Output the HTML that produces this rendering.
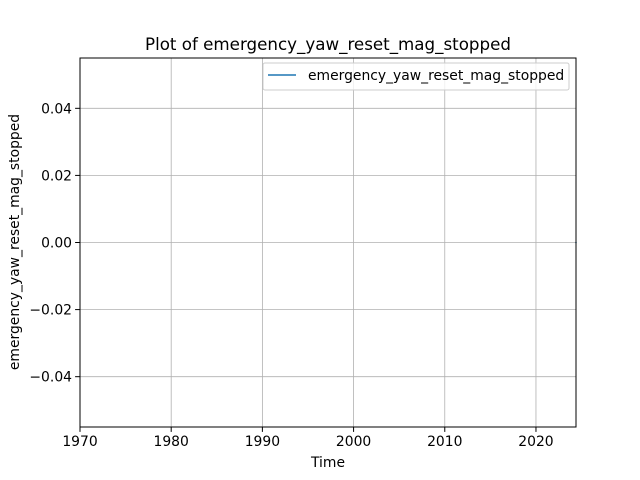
<!DOCTYPE html>
<html><head><meta charset="utf-8"><style>
body{margin:0;background:#fff;}
svg{display:block;font-family:"DejaVu Sans","Liberation Sans",sans-serif;}
</style></head><body>
<svg width="640" height="480">
<rect width="640" height="480" fill="#fff"/>
<text x="328" y="50" font-size="16.7" text-anchor="middle">Plot of emergency_yaw_reset_mag_stopped</text>
<g id="grid"></g>
<g id="ticks"></g>
<g id="marks"></g>
<rect x="80" y="58" width="496" height="369" fill="none" stroke="#000" stroke-width="1"/>
<text x="328" y="467" font-size="13.9" text-anchor="middle">Time</text>
<text x="19" y="242" font-size="13.9" text-anchor="middle" transform="rotate(-90 19 242)">emergency_yaw_reset_mag_stopped</text>
<g>
<rect x="263" y="63" width="306" height="27" rx="2" fill="#fff" fill-opacity="0.8" stroke="#ccc"/>
<line x1="268" y1="75" x2="296" y2="75" stroke="#1f77b4" stroke-width="1.5"/>
<text x="308" y="80" font-size="13.9">emergency_yaw_reset_mag_stopped</text>
</g>
</svg>
<script>
const xTicks=[1970,1980,1990,2000,2010,2020];
const yTicks=[-0.04,-0.02,0.00,0.02,0.04];
const yLabels=["−0.04","−0.02","0.00","0.02","0.04"];
const seriesX=[2024.4];
const seriesY=[0];
const L=80,R=576,T=58,B=427;
const xMin=1970,xMax=2024.39,yMin=-0.055,yMax=0.055;
const sx=v=>L+(v-xMin)/(xMax-xMin)*(R-L);
const sy=v=>B-(v-yMin)/(yMax-yMin)*(B-T);
const NS="http://www.w3.org/2000/svg";
const g=document.getElementById('grid'),t=document.getElementById('ticks'),m=document.getElementById('marks');
function mk(tag,a,p){const e=document.createElementNS(NS,tag);for(const k in a)e.setAttribute(k,a[k]);p.appendChild(e);return e;}
xTicks.forEach(v=>{const x=sx(v);
const gl=mk('line',{x1:x,x2:x,y1:T,y2:B,stroke:'#b0b0b0','stroke-width':0.8},g);


mk('line',{x1:x,x2:x,y1:B,y2:B+4.9,stroke:'#000'},t);
const tx=mk('text',{x:x,y:B+19,'font-size':13.9,'text-anchor':'middle'},t);tx.textContent=v;

});
yTicks.forEach((v,i)=>{const y=sy(v);
const gl=mk('line',{x1:L,x2:R,y1:y,y2:y,stroke:'#b0b0b0','stroke-width':0.8},g);


mk('line',{x1:L-4.9,x2:L,y1:y,y2:y,stroke:'#000'},t);
const tx=mk('text',{x:L-8,y:y+5,'font-size':13.9,'text-anchor':'end'},t);tx.textContent=yLabels[i];

});
seriesX.forEach((v,i)=>{const c=mk('circle',{cx:Math.min(sx(v),R),cy:sy(seriesY[i]),r:0.8,fill:'#1f77b4'},m);

});
</script>
</body></html>
